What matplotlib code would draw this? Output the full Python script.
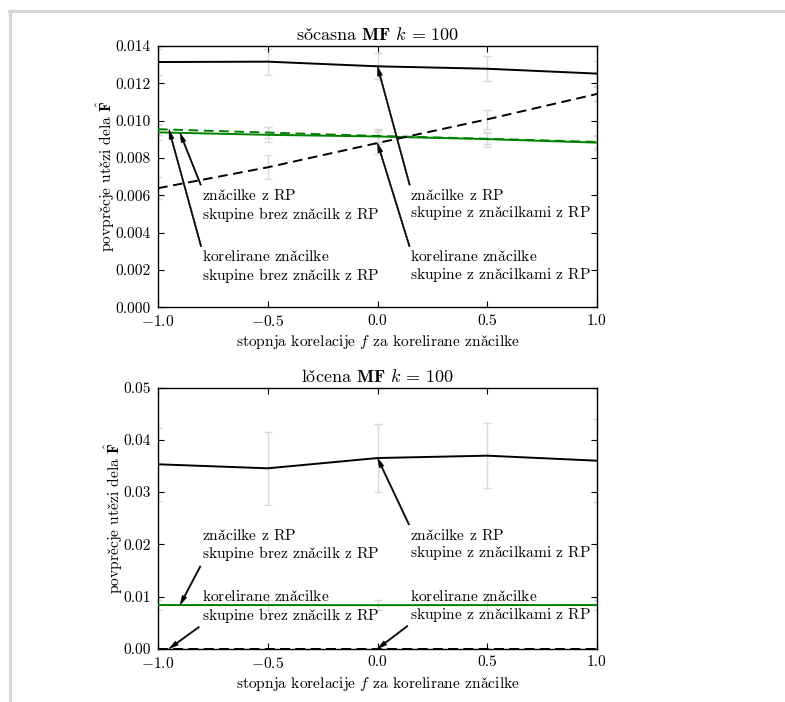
import numpy as np
import matplotlib
matplotlib.use("Agg")
import matplotlib.pyplot as plt
from matplotlib.lines import Line2D

plt.rcParams['font.family'] = ['cmr10', 'DejaVu Serif']
plt.rcParams['mathtext.fontset'] = 'cm'
plt.rcParams['axes.formatter.use_mathtext'] = True
plt.rcParams['axes.unicode_minus'] = True
plt.rcParams['lines.scale_dashes'] = False

# ---------------- data ----------------
f_vals = [-1.0, -0.5, 0.0, 0.5, 1.0]

# sočasna MF
soc_rp_with = [0.01314, 0.01316, 0.01291, 0.01278, 0.01252]
soc_rp_with_err = [0.0007, 0.00069, 0.00069, 0.00067, 0.0007]
soc_corr_with = [0.00638, 0.00750, 0.00880, 0.01007, 0.01143]
soc_corr_with_err = [0.0006, 0.00065, 0.0006, 0.0005, 0.0004]
soc_rp_without = [0.00937, 0.00924, 0.00915, 0.00901, 0.00882]
soc_rp_without_err = [0.0004, 0.0004, 0.0004, 0.0004, 0.0004]
soc_corr_without = [0.00954, 0.00936, 0.00918, 0.00903, 0.00886]
soc_corr_without_err = [0.0003, 0.0003, 0.0003, 0.0003, 0.0003]

# ločena MF
loc_rp_with = [0.03533, 0.03456, 0.03653, 0.03698, 0.03602]
loc_rp_with_err = [0.0070, 0.0070, 0.0066, 0.0062, 0.0080]
loc_corr_with = [0.0, 0.0, 0.0, 0.0, 0.0]
loc_corr_with_err = [0.0, 0.0, 0.0, 0.0, 0.0]
loc_rp_without = [0.00837, 0.00836, 0.00835, 0.00836, 0.00837]
loc_rp_without_err = [0.001, 0.001, 0.001, 0.001, 0.001]
loc_corr_without = [0.0, 0.0, 0.0, 0.0, 0.0]
loc_corr_without_err = [0.0, 0.0, 0.0, 0.0, 0.0]

top_yticks = [0.000, 0.002, 0.004, 0.006, 0.008, 0.010, 0.012, 0.014]
bot_yticks = [0.00, 0.01, 0.02, 0.03, 0.04, 0.05]
xticks = [-1.0, -0.5, 0.0, 0.5, 1.0]

c_ = r'$\check{\mathrm{c}}$'
lbl_rp_with = f"zna{c_}ilke z RP\nskupine z zna{c_}ilkami z RP"
lbl_corr_with = f"korelirane zna{c_}ilke\nskupine z zna{c_}ilkami z RP"
lbl_rp_without = f"zna{c_}ilke z RP\nskupine brez zna{c_}ilk z RP"
lbl_corr_without = f"korelirane zna{c_}ilke\nskupine brez zna{c_}ilk z RP"

FS = 11.2
GREEN = (0, 0.5, 0)
ERRC = '#d9d9d9'
DASH = (0, (7, 4))

fig = plt.figure(figsize=(7.85, 7.02), dpi=100)
ax1 = fig.add_axes([0.2013, 0.5623, 0.5592, 0.3722])
ax2 = fig.add_axes([0.2013, 0.0759, 0.5592, 0.3718])

# frame decoration (page border)
fig.add_artist(Line2D([9.5 / 785, 9.5 / 785], [0, 1 - 11 / 702], transform=fig.transFigure,
                      color='#d6d6d6', lw=2.2))
fig.add_artist(Line2D([8.5 / 785, 1], [1 - 11 / 702, 1 - 11 / 702], transform=fig.transFigure,
                      color='#d6d6d6', lw=2.2))

arrowprops = dict(facecolor='black', edgecolor='black', width=0.9, headwidth=3.5,
                  headlength=7, shrink=0.0, lw=0.4)


def draw(ax, series, title, yticks, ylim, fmt, ann):
    for vals, err, color, ls in series:
        ax.errorbar(f_vals, vals, yerr=err, fmt='none', ecolor=ERRC, elinewidth=1.0,
                    capsize=3, capthick=1.0, zorder=1)
    for vals, err, color, ls in series:
        ax.plot(f_vals, vals, color=color, linestyle=ls, lw=1.4, zorder=3)
    ax.set_xlim(-1, 1)
    ax.set_ylim(*ylim)
    ax.set_xticks(xticks)
    ax.set_yticks(yticks)
    ax.set_yticklabels([fmt.format(v) for v in yticks])
    ax.set_xticklabels([(r'$-$' if v < 0 else '') + '{:.1f}'.format(abs(v)) for v in xticks])
    ax.tick_params(direction='in', top=True, right=True, length=4, width=0.8,
                   labelsize=FS, pad=5)
    for s in ax.spines.values():
        s.set_linewidth(1.0)
    ax.set_title(title, fontsize=13, pad=4)
    ax.set_xlabel(r'stopnja korelacije $f$ za korelirane zna' + c_ + 'ilke', fontsize=FS, labelpad=3)
    ax.set_ylabel(r'povpre' + c_ + r'je ute' + r'$\check{\mathrm{z}}$' + r'i dela $\hat{\mathbf{F}}$',
                  fontsize=FS, labelpad=-1)
    for text, xt, vals, xy_text in ann:
        ax.annotate(text, xy=(xt, np.interp(xt, f_vals, vals)), xytext=xy_text,
                    ha='left', va='top', fontsize=FS, arrowprops=arrowprops,
                    linespacing=1.12, zorder=5)


draw(ax1,
     [(soc_corr_without, soc_corr_without_err, GREEN, DASH),
      (soc_rp_without, soc_rp_without_err, GREEN, '-'),
      (soc_corr_with, soc_corr_with_err, 'black', DASH),
      (soc_rp_with, soc_rp_with_err, 'black', '-')],
     r'so' + c_ + r'asna $\mathbf{MF}$ $k\,=\,100$', top_yticks, (0, 0.014), '{:.3f}',
     [(lbl_rp_without, -0.9, soc_rp_without, (-0.8, 0.0064)),
      (lbl_corr_without, -0.95, soc_corr_without, (-0.8, 0.0031)),
      (lbl_rp_with, 0.0, soc_rp_with, (0.15, 0.0064)),
      (lbl_corr_with, 0.0, soc_corr_with, (0.15, 0.0031))])

draw(ax2,
     [(loc_corr_without, loc_corr_without_err, GREEN, DASH),
      (loc_rp_without, loc_rp_without_err, GREEN, '-'),
      (loc_corr_with, loc_corr_with_err, 'black', DASH),
      (loc_rp_with, loc_rp_with_err, 'black', '-')],
     r'lo' + c_ + r'ena $\mathbf{MF}$ $k\,=\,100$', bot_yticks, (0, 0.05), '{:.2f}',
     [(lbl_rp_without, -0.9, loc_rp_without, (-0.8, 0.0232)),
      (lbl_corr_without, -0.95, loc_corr_without, (-0.8, 0.0114)),
      (lbl_rp_with, 0.0, loc_rp_with, (0.15, 0.0232)),
      (lbl_corr_with, 0.0, loc_corr_with, (0.15, 0.0114))])

fig.savefig('out.png', dpi=100, facecolor='white')
